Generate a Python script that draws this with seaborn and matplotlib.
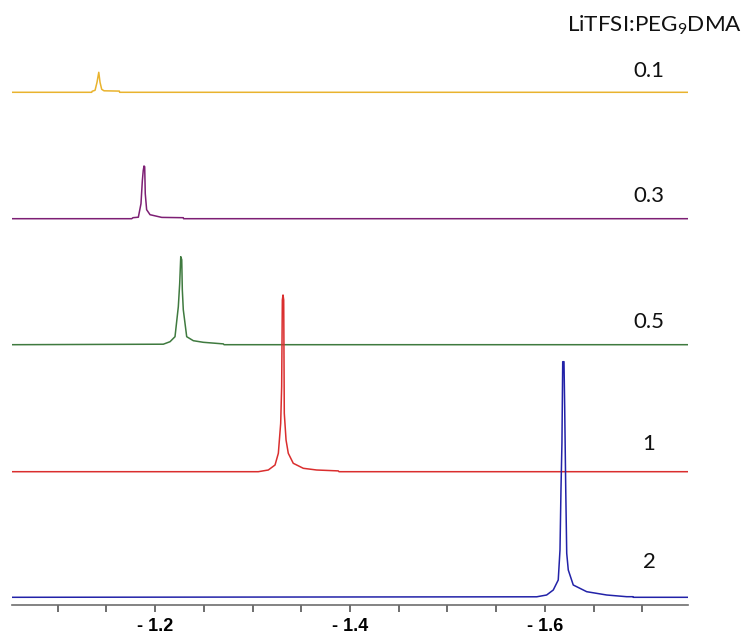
import numpy as np
import pandas as pd
import matplotlib
matplotlib.use("Agg")
import matplotlib.pyplot as plt
import seaborn as sns

sns.set_theme(style="white")
plt.rcParams["font.family"] = ["Lato", "DejaVu Sans"]
plt.rcParams["mathtext.fontset"] = "custom"
plt.rcParams["mathtext.rm"] = "Lato"
plt.rcParams["mathtext.it"] = "Lato:italic"

# Li-7 NMR spectra, chemical shift (ppm) vs. signal (a.u.), traced outlines
samples = ["0.1", "0.3", "0.5", "1", "2"]
colors = ["#E9B32E", "#7D1F74", "#3F7A3F", "#DA2E2E", "#2222A8"]

ppm_01 = [-1.0533, -1.1351, -1.1354, -1.1385, -1.1405, -1.1423, -1.1436, -1.1453,
          -1.1477, -1.1634, -1.1637, -1.7467]
sig_01 = [0, 0, 1, 2, 10, 20, 10, 3, 1.5, 1.2, 0, 0]

ppm_03 = [-1.0533, -1.1761, -1.1774, -1.1829, -1.1856, -1.1870, -1.1879, -1.1887,
          -1.1894, -1.1900, -1.1914, -1.1949, -1.2069, -1.2290, -1.2293, -1.7467]
sig_03 = [0, 0, 1, 1.5, 15, 38, 48, 52.7, 52, 25, 9, 4, 1.3, 1, 0, 0]

ppm_05 = [-1.0533, -1.2085, -1.2154, -1.2205, -1.2239, -1.2253, -1.2264, -1.2274,
          -1.2280, -1.2290, -1.2325, -1.2393, -1.2495, -1.2701, -1.2708, -1.7467]
sig_05 = [0, 0.5, 3, 8, 38, 61, 88, 85, 55, 35, 8, 4, 2.4, 0.8, 0, 0]

ppm_1 = [-1.0533, -1.3059, -1.3162, -1.3231, -1.3265, -1.3289, -1.3299, -1.3306,
         -1.3313, -1.3320, -1.3326, -1.3344, -1.3367, -1.3418, -1.3521, -1.3658,
         -1.3880, -1.3887, -1.7467]
sig_1 = [0, 0, 1.7, 6.7, 18.4, 48.4, 85, 171.7, 176.7, 171.7, 58.4, 31.7, 18.4,
         8.4, 3.4, 1.7, 0.8, 0, 0]

ppm_2 = [-1.0533, -1.5915, -1.6017, -1.6085, -1.6136, -1.6154, -1.6164, -1.6174,
         -1.6182, -1.6195, -1.6202, -1.6213, -1.6223, -1.6239, -1.6290, -1.6428,
         -1.6633, -1.6838, -1.6903, -1.6906, -1.7467]
sig_2 = [0, 0.5, 2.3, 7.3, 17.3, 47.3, 107.3, 154.3, 235.6, 235.6, 190.6, 107.3,
         44, 27.3, 12.3, 5.6, 2.3, 0.6, 0.6, 0, 0]

major_ticks = [-1.2, -1.4, -1.6]
major_labels = ["- 1.2", "- 1.4", "- 1.6"]
minor_ticks = [-1.1, -1.15, -1.25, -1.3, -1.35, -1.45, -1.5, -1.55, -1.65, -1.7]
legend_title = "LiTFSI:PEG$_{\\mathrm{9}}$DMA"

# vertical stacking of the traces (baseline of each trace)
stack = {"0.1": 512.7, "0.3": 386.3, "0.5": 260.3, "1": 133.3, "2": 7.7}

traces = {"0.1": (ppm_01, sig_01), "0.3": (ppm_03, sig_03), "0.5": (ppm_05, sig_05),
          "1": (ppm_1, sig_1), "2": (ppm_2, sig_2)}
frames = []
for name in samples:
    p, s = traces[name]
    frames.append(pd.DataFrame({"ppm": p, "signal": np.array(s) + stack[name],
                                "sample": name}))
df = pd.concat(frames, ignore_index=True)

W, H = 748, 639
fig = plt.figure(figsize=(W / 100, H / 100), dpi=100)
ax = fig.add_axes([12 / W, 1 - 605 / H, 676 / W, 605 / H])

sns.lineplot(data=df, x="ppm", y="signal", hue="sample", hue_order=samples,
             palette=colors, estimator=None, sort=False, legend=False,
             linewidth=1.1, ax=ax)

ax.set_xlim(-1.0533, -1.7467)
ax.set_ylim(0, 605)
ax.set_xlabel("")
ax.set_ylabel("")
ax.set_yticks([])
for side in ["left", "right", "top"]:
    ax.spines[side].set_visible(False)
ax.spines["bottom"].set_color("#6E6E6E")
ax.spines["bottom"].set_linewidth(1.2)

ax.set_xticks(major_ticks)
ax.set_xticklabels(major_labels, fontfamily=["Liberation Sans"], fontweight="bold",
                   fontsize=13)
ax.set_xticks(minor_ticks, minor=True)
ax.tick_params(axis="x", which="both", direction="out", length=5, width=1.2,
               color="#555555", bottom=True)
ax.tick_params(axis="x", which="major", pad=4.5, labelcolor="black")

# series labels along the right side
label_baselines = [76.7, 202, 327.5, 450, 568.3]
for name, yb in zip(samples, label_baselines):
    fig.text(649 / W, 1 - yb / H, name, ha="center", va="baseline",
             fontsize=16, color="#111111")
fig.text(655 / W, 1 - 31.7 / H, legend_title, ha="center", va="baseline",
         fontsize=16.2, color="#111111")

fig.savefig("out.png", dpi=100, facecolor="white")
